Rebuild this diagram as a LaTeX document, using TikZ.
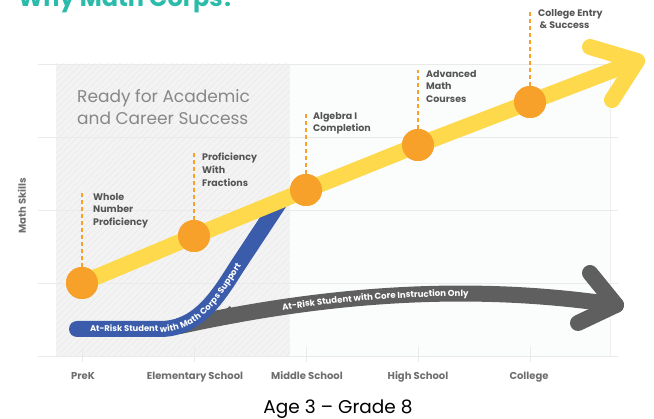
\documentclass[tikz,border=0pt]{standalone}
\usepackage{fontspec}
\setmainfont{Poppins}
\usetikzlibrary{calc,positioning,decorations.text,patterns.meta}
\definecolor{mcyellow}{HTML}{FDD94B}
\definecolor{mcorange}{HTML}{F7A12B}
\definecolor{mcblue}{HTML}{3A5CAB}
\definecolor{mcgrey}{HTML}{5F5F5F}
\definecolor{mcteal}{HTML}{2BBBAA}
\definecolor{mctext}{HTML}{555555}
\definecolor{mcgrid}{HTML}{EAEAEA}
\definecolor{mcshade}{HTML}{F3F3F3}
\definecolor{mchatch}{HTML}{EAEAEA}
\definecolor{mclight}{HTML}{FBFCFC}

\begin{document}
\begin{tikzpicture}[x=1pt,y=-1pt,
  milestone/.style={circle,fill=mcorange,minimum size=32pt,inner sep=0pt},
  goal/.style={anchor=north west,align=left,inner sep=0pt,text=mctext,
    font=\bfseries\fontsize{9.5}{12.6}\selectfont},
  guide/.style={mcorange,line width=1.2pt,dash pattern=on 4pt off 3pt},
  stage/.style={anchor=base,inner sep=0pt,text=mctext!85,
    font=\bfseries\fontsize{10}{11}\selectfont},
  track/.style={line width=16pt,line cap=round,line join=round}]
\useasboundingbox (0,0) rectangle (654,419);
% background of the chart
\fill[mcshade] (56,64) rectangle (290,356);
\fill[pattern={Lines[angle=45,distance=4.5pt,line width=0.5pt]},pattern color=mchatch]
  (56,64) rectangle (290,356);
\fill[mclight] (290,64) rectangle (610,356);
\draw[mcgrid!70,line width=0.6pt] (610,64) -- (610,356);
\foreach \y in {64,137,210,283,356}
  \draw[mcgrid,line width=0.8pt] (38,\y) -- (618,\y);
\foreach \x in {82,194,306,418,530}
  \draw[mcgrid,line width=0.8pt] (\x,347) -- (\x,362);

\node[anchor=base west,inner sep=0pt,text=mcteal,font=\bfseries\fontsize{24}{24}\selectfont]
  (title) at (18,6.5) {Why Math Corps?};
\node[anchor=north west,align=left,inner sep=0pt,text=black!47,
  font=\fontsize{17}{22}\selectfont] (ready) at (77,89) {Ready for Academic\\and Career Success};

% core instruction only
\coordinate (greytip) at (616,305);
\fill[mcgrey] (172,334) .. controls (200,328) and (215,318) .. (230,306) -- (240,322) -- cycle;
\draw[track,mcgrey] (180,326) .. controls (300,300) and (450,280) .. (greytip);
\draw[track,mcgrey] (590,273) -- (greytip) -- (578,323);
\path[decorate,decoration={text along path,
  text={|\bfseries\fontsize{8.6}{10}\selectfont|At-Risk Student with Core Instruction Only},
  text color=white,text align={left indent=104pt},raise=-3pt}]
  (180,326) .. controls (300,300) and (450,280) .. (greytip);

% math corps support
\draw[track,mcblue] (77,329) -- (160,329) .. controls (200,329) and (220,293) .. (238,265) -- (279,203);
\path[decorate,decoration={text along path,
  text={|\bfseries\fontsize{8.4}{10}\selectfont|At-Risk Student with Math Corps Support},
  text color=white,text align={left indent=13pt},raise=-3pt}]
  (77,329) -- (160,329) .. controls (200,329) and (220,293) .. (238,265) -- (279,203);

% on track
\node[milestone] (prek) at (82,283) {};
\node[milestone] (elem) at (194,236) {};
\node[milestone] (middle) at (306,190) {};
\node[milestone] (high) at (418,145) {};
\node[milestone] (college) at (530,102) {};
\coordinate (yellowtip) at (637,61);
\draw[track,mcyellow] (prek.center) -- (elem.center) -- (middle.center) -- (high.center)
  -- (college.center) -- (yellowtip);
\draw[track,mcyellow] (590,47) -- (yellowtip) -- (612,100);
\foreach \m in {prek,elem,middle,high,college}
  \node[milestone] at (\m) {};

\node[goal] (whole) at (93,193) {Whole\\Number\\Proficiency};
\node[goal] (fractions) at (202,153) {Proficiency\\With\\Fractions};
\node[goal] (algebra) at (313,112) {Algebra I\\Completion};
\node[goal] (advanced) at (426,70) {Advanced\\Math\\Courses};
\node[goal] (entry) at (538,9) {College Entry\\\hspace{1.5pt}\& Success};
\draw[guide] (prek.north) -- (prek.north |- whole.north);
\draw[guide] (elem.north) -- (elem.north |- fractions.north);
\draw[guide] (middle.north) -- (middle.north |- algebra.north);
\draw[guide] (high.north) -- (high.north |- advanced.north);
\draw[guide] (college.north) -- (college.north |- entry.north);

% axes
\node[stage,anchor=center,rotate=90] (skills) at (22,206) {Math Skills};
\node[stage] (lprek) at (83,380) {PreK};
\node[stage] (lelem) at (195,380) {Elementary School};
\node[stage] (lmiddle) at (307,380) {Middle School};
\node[stage] (lhigh) at (418,380) {High School};
\node[stage] (lcollege) at (529,380) {College};
\node[anchor=base,inner sep=0pt,font=\fontsize{18.5}{18.5}\selectfont] (age) at (338,414) {Age 3 – Grade 8};
\end{tikzpicture}
\end{document}
